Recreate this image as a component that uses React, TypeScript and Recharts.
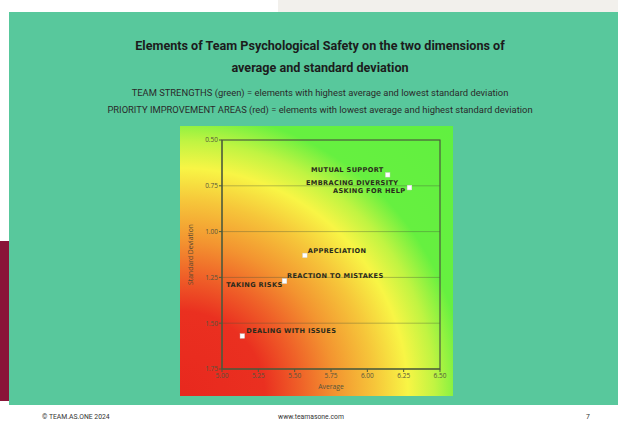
import React from 'react';
import {
  ScatterChart, Scatter, XAxis, YAxis, CartesianGrid, ReferenceArea,
} from 'recharts';

// ---- data ----
const elements = [
  'MUTUAL SUPPORT',
  'EMBRACING DIVERSITY',
  'ASKING FOR HELP',
  'APPRECIATION',
  'REACTION TO MISTAKES',
  'TAKING RISKS',
  'DEALING WITH ISSUES',
];
const averages = [6.14, 6.29, 6.29, 5.57, 5.43, 5.43, 5.14];
const deviations = [0.69, 0.76, 0.76, 1.13, 1.27, 1.27, 1.57];

const xTicks = [5.0, 5.25, 5.5, 5.75, 6.0, 6.25, 6.5];
const yTicks = [0.5, 0.75, 1.0, 1.25, 1.5, 1.75];

const titleLines = [
  'Elements of Team Psychological Safety on the two dimensions of',
  'average and standard deviation',
];
const subtitleLines = [
  'TEAM STRENGTHS (green) = elements with highest average and lowest standard deviation',
  'PRIORITY IMPROVEMENT AREAS (red) = elements with lowest average and highest standard deviation',
];
const footerLeft = '© TEAM.AS.ONE 2024';
const footerCenter = 'www.teamasone.com';
const footerRight = '7';

// ---- label placement (style only) ----
const labelStyle: Record<string, { anchor: 'start' | 'end'; dx: number; dy: number }> = {
  'MUTUAL SUPPORT': { anchor: 'end', dx: -4, dy: -2.5 },
  'EMBRACING DIVERSITY': { anchor: 'end', dx: -11, dy: -3 },
  'ASKING FOR HELP': { anchor: 'end', dx: -4, dy: 5.5 },
  'APPRECIATION': { anchor: 'start', dx: 3, dy: -2.5 },
  'REACTION TO MISTAKES': { anchor: 'start', dx: 2.5, dy: -3 },
  'TAKING RISKS': { anchor: 'end', dx: -2, dy: 6 },
  'DEALING WITH ISSUES': { anchor: 'start', dx: 4, dy: -2.7 },
};

const points = elements.map((name, i) => ({ name, avg: averages[i], sd: deviations[i] }));

const PointShape = (props: any) => {
  const { cx, cy, payload } = props;
  if (cx == null || cy == null) return null;
  const st = labelStyle[payload.name];
  return (
    <g>
      <rect x={cx - 2.3} y={cy - 2.3} width={4.6} height={4.6} fill="#ffffff" stroke="#c8c8c8" strokeWidth={0.4} />
      <text
        x={cx + st.dx}
        y={cy + st.dy}
        textAnchor={st.anchor}
        fontFamily="'DejaVu Sans', sans-serif"
        fontWeight="bold"
        fontSize={6.6}
        letterSpacing={0.35}
        fill="#2a2a1c"
      >
        {payload.name}
      </text>
    </g>
  );
};

const tickStyle = { fontSize: 6.5, fill: '#55553c', fontFamily: "'Open Sans', sans-serif" };

export default function App() {
  return (
    <div
      style={{
        position: 'absolute', left: 0, top: 0, width: 618, height: 430,
        background: '#ffffff', overflow: 'hidden', fontFamily: 'Roboto, sans-serif',
      }}
    >
      <div style={{ position: 'absolute', left: 278, top: 0, width: 340, height: 12, background: '#f2f0ec' }} />
      <div style={{ position: 'absolute', left: 9, top: 12, width: 609, height: 393, background: '#58c89c' }} />
      <div style={{ position: 'absolute', left: 0, top: 241, width: 9, height: 160, background: '#8a1538' }} />

      {titleLines.map((t, i) => (
        <div
          key={t}
          style={{
            position: 'absolute', left: 9, width: 622, top: 38 + i * 22, textAlign: 'center',
            fontSize: 12.6, fontWeight: 700, color: '#1c1c1c', lineHeight: '16px',
          }}
        >
          {t}
        </div>
      ))}
      {subtitleLines.map((t, i) => (
        <div
          key={t}
          style={{
            position: 'absolute', left: 9, width: 622, top: 87 + i * 17, textAlign: 'center',
            fontSize: 9.4, color: '#2a2a2a', lineHeight: '11px',
          }}
        >
          {t}
        </div>
      ))}

      <div
        style={{
          position: 'absolute', left: 180, top: 126, width: 273, height: 270,
          background:
            'radial-gradient(circle at 0% 100%, #e8281e 0px, #ea3020 85px, #ef6028 120px, #f39430 155px, #f6c63a 195px, #f8f545 228px, #c0f442 255px, #66f040 285px, #60f040 400px)',
        }}
      >
        <ScatterChart width={273} height={270} margin={{ top: 14, right: 13, left: 0, bottom: 0 }}>
          <CartesianGrid vertical={false} stroke="rgba(70,80,55,0.45)" strokeWidth={0.8} />
          <XAxis
            type="number"
            dataKey="avg"
            domain={[5, 6.5]}
            ticks={xTicks}
            tickFormatter={(v: number) => v.toFixed(2)}
            tick={tickStyle}
            tickSize={3}
            tickMargin={1}
            height={27}
            stroke="#4c5a3c"
            interval={0}
            label={{ value: 'Average', position: 'insideBottom', offset: 7, fontSize: 6.8, fill: '#55553c', fontFamily: "'Open Sans', sans-serif" }}
          />
          <YAxis
            type="number"
            dataKey="sd"
            domain={[0.5, 1.75]}
            reversed
            ticks={yTicks}
            tickFormatter={(v: number) => v.toFixed(2)}
            tick={tickStyle}
            tickSize={3}
            tickMargin={1}
            width={42}
            stroke="#4c5a3c"
            interval={0}
            label={{ value: 'Standard Deviation', angle: -90, position: 'insideLeft', offset: 11, fontSize: 6.8, fill: '#5a4a30', fontFamily: "'Open Sans', sans-serif", style: { textAnchor: 'middle' } }}
          />
          <ReferenceArea x1={5} x2={6.5} y1={0.5} y2={1.75} fill="none" stroke="#4c5a3c" strokeWidth={1.2} ifOverflow="visible" />
          <Scatter data={points} shape={PointShape} isAnimationActive={false} />
        </ScatterChart>
      </div>

      <div style={{ position: 'absolute', left: 42, top: 413, fontSize: 6.8, color: '#333' }}>{footerLeft}</div>
      <div style={{ position: 'absolute', left: 9, width: 604, top: 413, fontSize: 6.8, color: '#333', textAlign: 'center' }}>{footerCenter}</div>
      <div style={{ position: 'absolute', left: 586, top: 413, fontSize: 6.8, color: '#333' }}>{footerRight}</div>
    </div>
  );
}
